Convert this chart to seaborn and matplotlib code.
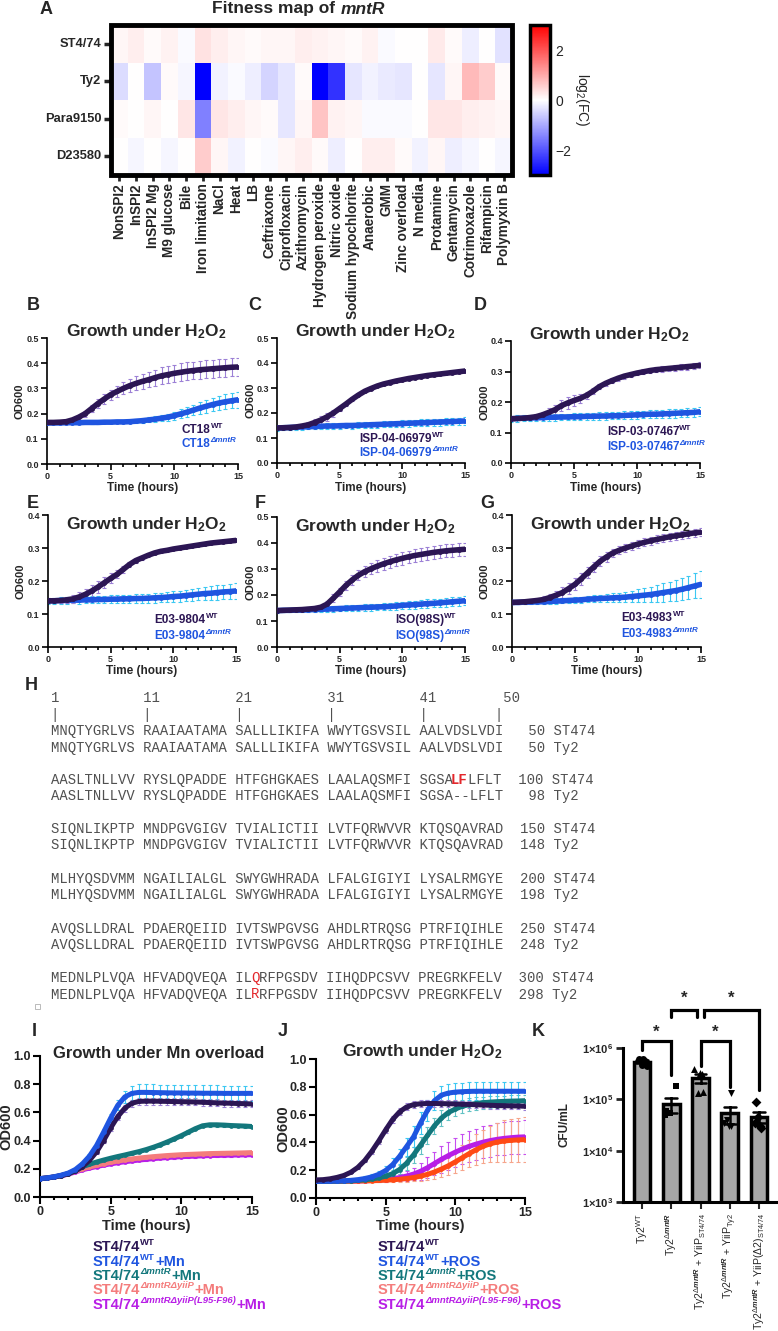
import numpy as np
import pandas as pd
import matplotlib
matplotlib.use("Agg")
import matplotlib.pyplot as plt
import seaborn as sns
from matplotlib.patches import Rectangle
from matplotlib.ticker import FixedLocator, MultipleLocator, FormatStrFormatter, NullLocator

# ---------------------------------------------------------------- data
strains = ["ST4/74", "Ty2", "Para9150", "D23580"]
conditions = ["NonSPI2", "InSPI2", "InSPI2 Mg", "M9 glucose", "Bile", "Iron limitation",
              "NaCl", "Heat", "LB", "Ceftriaxone", "Ciprofloxacin", "Azithromycin",
              "Hydrogen peroxide", "Nitric oxide", "Sodium hypochlorite", "Anaerobic",
              "GMM", "Zinc overload", "N media", "Protamine", "Gentamycin",
              "Cotrimoxazole", "Rifampicin", "Polymyxin B"]
fc_st474 = [0.10, 0.20, 0.05, 0.15, -0.05, 0.35, 0.20, 0.10, 0.05, 0.10, 0.10, 0.20,
            0.15, 0.10, 0.05, 0.15, -0.05, 0.00, 0.00, 0.25, 0.05, -0.20, 0.00, -0.35]
fc_ty2 = [-0.40, 0.00, -0.70, 0.05, -0.10, -3.00, -0.15, -0.05, -0.20, -0.50, -0.30, 0.05,
          -3.00, -2.40, -0.30, -0.15, -0.25, -0.30, 0.00, -0.30, 0.10, 0.80, 0.60, 0.05]
fc_para = [0.05, 0.00, 0.10, 0.00, 0.30, -1.50, 0.30, 0.20, 0.10, 0.05, -0.30, 0.10,
           0.70, 0.15, 0.10, -0.05, -0.05, -0.05, 0.00, 0.30, 0.30, 0.20, 0.15, 0.10]
fc_d23580 = [0.00, -0.10, 0.00, -0.10, 0.00, 0.60, 0.10, -0.15, 0.00, -0.05, 0.10, 0.20,
             0.05, -0.20, 0.00, 0.20, 0.20, 0.05, -0.15, 0.10, -0.20, -0.10, 0.00, -0.10]

time_h = [0, 0.5, 1, 1.5, 2, 2.5, 3, 3.5, 4, 4.5, 5, 5.5, 6, 6.5, 7, 7.5, 8, 8.5, 9, 9.5,
          10, 10.5, 11, 11.5, 12, 12.5, 13, 13.5, 14, 14.5, 15]

# B  CT18
b_wt = [.165,.165,.166,.168,.175,.186,.200,.220,.240,.258,.275,.288,.300,.311,.320,.328,.335,.343,.350,.355,.360,.364,.368,.371,.374,.376,.378,.380,.382,.384,.385]
b_wt_sd = [.004,.004,.005,.006,.008,.010,.012,.014,.016,.018,.020,.022,.024,.026,.028,.030,.031,.032,.033,.034,.034,.035,.035,.035,.035,.035,.035,.035,.035,.035,.035]
b_ko = [.163,.163,.163,.164,.164,.164,.165,.165,.165,.166,.166,.167,.167,.168,.170,.172,.175,.178,.182,.186,.192,.199,.206,.214,.222,.229,.236,.242,.247,.251,.255]
b_ko_sd = [.004,.004,.004,.004,.004,.004,.004,.005,.005,.005,.005,.006,.006,.007,.008,.009,.010,.011,.012,.014,.016,.018,.019,.021,.023,.025,.026,.028,.029,.030,.031]
# C  ISP-04-06979
c_wt = [.140,.141,.142,.144,.148,.153,.162,.172,.185,.200,.218,.236,.255,.272,.287,.298,.308,.316,.322,.328,.333,.338,.342,.346,.350,.353,.356,.359,.362,.365,.368]
c_wt_sd = [.004,.004,.005,.006,.008,.010,.014,.016,.016,.014,.010,.008,.006,.005,.004,.004,.004,.004,.004,.004,.004,.004,.004,.004,.004,.004,.004,.004,.004,.004,.004]
c_ko = [.140,.141,.142,.143,.144,.145,.146,.147,.148,.148,.149,.150,.150,.151,.152,.153,.154,.155,.156,.157,.158,.159,.160,.161,.162,.163,.164,.165,.166,.167,.168]
c_ko_sd = [.010,.010,.010,.010,.010,.010,.010,.011,.011,.011,.011,.011,.012,.012,.012,.012,.012,.012,.013,.013,.013,.013,.013,.014,.014,.014,.014,.014,.014,.015,.015]
# D  ISP-03-07467
d_wt = [.145,.146,.147,.149,.152,.158,.166,.175,.188,.197,.205,.212,.222,.235,.250,.261,.270,.278,.285,.290,.295,.299,.303,.306,.308,.310,.312,.314,.316,.318,.320]
d_wt_sd = [.005,.005,.006,.007,.008,.010,.013,.016,.018,.020,.018,.015,.012,.010,.008,.008,.008,.008,.008,.008,.008,.008,.008,.008,.009,.009,.009,.010,.010,.010,.010]
d_ko = [.145,.146,.147,.148,.148,.149,.150,.150,.151,.151,.152,.152,.153,.153,.154,.154,.155,.155,.156,.157,.158,.159,.160,.160,.161,.162,.163,.164,.165,.166,.168]
d_ko_sd = [.010,.010,.010,.010,.010,.010,.011,.011,.011,.011,.011,.012,.012,.012,.012,.012,.012,.012,.013,.013,.013,.013,.013,.013,.014,.014,.014,.014,.014,.014,.015]
# E  E03-9804
e_wt = [.140,.140,.141,.143,.146,.152,.160,.170,.182,.195,.208,.220,.235,.250,.262,.270,.278,.285,.290,.293,.297,.300,.303,.306,.309,.312,.315,.317,.319,.321,.323]
e_wt_sd = [.008,.008,.009,.010,.012,.014,.016,.018,.018,.017,.015,.012,.010,.008,.006,.005,.004,.004,.004,.004,.004,.004,.004,.004,.004,.004,.004,.004,.004,.004,.004]
e_ko = [.140,.140,.141,.141,.142,.142,.143,.143,.144,.144,.145,.145,.146,.146,.147,.147,.148,.149,.150,.151,.153,.154,.156,.158,.160,.162,.163,.165,.167,.168,.170]
e_ko_sd = [.010,.010,.010,.010,.010,.011,.011,.011,.011,.012,.012,.012,.013,.013,.013,.014,.014,.015,.015,.016,.016,.017,.018,.018,.019,.020,.021,.022,.022,.023,.024]
# F  ISO(98S)
f_wt = [.140,.141,.142,.143,.144,.146,.148,.153,.165,.188,.212,.237,.258,.276,.290,.301,.311,.320,.328,.335,.341,.347,.352,.356,.360,.364,.367,.370,.372,.374,.376]
f_wt_sd = [.005,.005,.005,.006,.006,.007,.008,.010,.012,.014,.016,.018,.019,.020,.021,.022,.022,.023,.023,.024,.024,.024,.025,.025,.025,.025,.025,.025,.025,.025,.025]
f_ko = [.140,.141,.141,.142,.142,.143,.144,.145,.146,.147,.148,.149,.150,.151,.152,.153,.154,.155,.156,.158,.160,.162,.163,.165,.167,.168,.170,.172,.174,.176,.178]
f_ko_sd = [.008,.008,.008,.009,.009,.009,.010,.010,.010,.011,.011,.011,.012,.012,.012,.013,.013,.013,.014,.014,.014,.015,.015,.015,.016,.016,.016,.017,.017,.018,.018]
# G  E03-4983
g_wt = [.135,.136,.137,.139,.141,.144,.150,.157,.165,.177,.190,.207,.225,.243,.260,.273,.285,.293,.300,.306,.312,.317,.322,.326,.330,.334,.337,.340,.343,.346,.348]
g_wt_sd = [.005,.005,.006,.007,.008,.010,.012,.014,.016,.017,.018,.018,.017,.016,.015,.014,.013,.012,.012,.012,.012,.012,.012,.012,.012,.012,.012,.012,.012,.012,.012]
g_ko = [.135,.135,.136,.136,.137,.137,.138,.139,.140,.141,.142,.143,.145,.146,.147,.148,.149,.150,.151,.153,.155,.157,.159,.162,.165,.168,.171,.175,.180,.185,.190]
g_ko_sd = [.006,.006,.006,.007,.007,.007,.008,.008,.008,.009,.009,.010,.010,.011,.012,.013,.014,.015,.016,.018,.020,.022,.024,.026,.028,.030,.032,.034,.036,.038,.040]

# I  Mn overload
i_wt = [.130,.135,.142,.152,.165,.185,.215,.260,.320,.400,.490,.570,.630,.665,.678,.680,.680,.679,.678,.677,.676,.675,.674,.672,.670,.668,.666,.665,.663,.662,.660]
i_wt_sd = [.005,.005,.006,.006,.007,.008,.010,.012,.015,.018,.020,.022,.024,.025,.025,.025,.025,.025,.025,.025,.025,.025,.025,.025,.025,.025,.025,.025,.025,.025,.025]
i_wtmn = [.130,.136,.144,.155,.170,.195,.235,.290,.365,.460,.560,.650,.710,.735,.742,.742,.741,.740,.739,.738,.738,.737,.737,.736,.736,.736,.735,.735,.735,.735,.735]
i_wtmn_sd = [.005,.005,.006,.007,.008,.010,.012,.015,.020,.025,.030,.035,.045,.055,.058,.058,.058,.057,.057,.056,.056,.055,.055,.055,.055,.055,.055,.055,.055,.055,.055]
i_ko = [.130,.135,.142,.152,.165,.185,.215,.232,.248,.262,.275,.287,.298,.310,.322,.336,.352,.370,.390,.412,.435,.460,.485,.505,.512,.512,.510,.507,.505,.503,.500]
i_ko_sd = [.005,.005,.005,.006,.006,.007,.007,.008,.008,.008,.009,.009,.009,.010,.010,.010,.010,.011,.011,.011,.012,.012,.012,.012,.012,.012,.012,.012,.012,.012,.012]
i_dy = [.130,.135,.142,.152,.165,.182,.200,.213,.225,.236,.246,.255,.263,.270,.276,.281,.286,.290,.294,.297,.300,.302,.304,.306,.308,.309,.310,.311,.312,.313,.315]
i_dy_sd = [.005,.005,.005,.005,.006,.006,.006,.007,.007,.007,.008,.008,.008,.008,.009,.009,.009,.009,.010,.010,.010,.010,.010,.010,.010,.010,.010,.010,.010,.010,.010]
i_lf = [.130,.135,.142,.150,.162,.178,.193,.205,.216,.226,.235,.243,.250,.256,.262,.267,.272,.276,.280,.283,.286,.288,.290,.292,.294,.295,.296,.297,.298,.299,.300]
i_lf_sd = [.005,.005,.005,.005,.006,.006,.006,.007,.007,.007,.008,.008,.008,.008,.009,.009,.009,.009,.010,.010,.010,.010,.010,.010,.010,.010,.010,.010,.010,.010,.010]

# J  H2O2
j_wt = [.130,.132,.138,.148,.162,.185,.220,.270,.335,.410,.490,.565,.620,.655,.672,.678,.680,.680,.679,.678,.677,.675,.673,.671,.669,.667,.665,.664,.663,.662,.660]
j_wt_sd = [.005,.005,.006,.006,.007,.008,.010,.012,.015,.018,.020,.022,.024,.025,.025,.025,.025,.025,.025,.025,.025,.025,.025,.025,.025,.025,.025,.025,.025,.025,.025]
j_ros = [.120,.120,.121,.122,.124,.127,.132,.140,.152,.170,.198,.240,.300,.370,.440,.540,.630,.700,.740,.755,.762,.765,.767,.768,.768,.768,.768,.768,.768,.768,.768]
j_ros_sd = [.005,.005,.005,.005,.006,.008,.010,.015,.020,.025,.035,.045,.055,.065,.075,.080,.075,.070,.065,.065,.065,.065,.065,.065,.065,.065,.065,.065,.065,.065,.065]
j_ko = [.120,.120,.120,.121,.122,.124,.127,.131,.137,.145,.157,.175,.205,.250,.310,.380,.450,.520,.575,.615,.640,.660,.672,.680,.686,.690,.693,.695,.697,.698,.700]
j_ko_sd = [.005,.005,.005,.005,.006,.007,.008,.010,.012,.015,.020,.025,.035,.045,.055,.060,.060,.058,.055,.052,.050,.048,.046,.045,.044,.043,.042,.042,.041,.041,.040]
j_dy = [.120,.120,.120,.120,.121,.121,.122,.123,.124,.126,.128,.131,.135,.140,.147,.157,.170,.187,.208,.232,.260,.290,.320,.348,.372,.390,.402,.410,.415,.418,.420]
j_dy_sd = [.005,.005,.005,.005,.005,.006,.006,.007,.008,.010,.012,.015,.018,.022,.028,.035,.042,.050,.060,.070,.080,.090,.100,.110,.120,.130,.140,.150,.155,.158,.160]
j_lf = [.120,.120,.120,.120,.121,.122,.123,.124,.126,.129,.133,.139,.147,.158,.172,.192,.218,.248,.278,.305,.330,.352,.372,.388,.402,.413,.422,.429,.434,.438,.440]
j_lf_sd = [.005,.005,.005,.005,.005,.006,.007,.008,.010,.012,.015,.020,.025,.035,.045,.060,.075,.085,.095,.100,.105,.108,.110,.112,.114,.115,.116,.117,.118,.119,.120]

# legend entries of I and J: (base, superscript, suffix)
i_legend = [("ST4/74", "WT", ""), ("ST4/74", "WT", "+Mn"), ("ST4/74", "ΔmntR", "+Mn"),
            ("ST4/74", "ΔmntRΔyiiP", "+Mn"), ("ST4/74", "ΔmntRΔyiiP(L95-F96)", "+Mn")]
j_legend = [("ST4/74", "WT", ""), ("ST4/74", "WT", "+ROS"), ("ST4/74", "ΔmntR", "+ROS"),
            ("ST4/74", "ΔmntRΔyiiP", "+ROS"), ("ST4/74", "ΔmntRΔyiiP(L95-F96)", "+ROS")]

# H  sequence alignment
seq_st474 = ["MNQTYGRLVS RAAIAATAMA SALLLIKIFA WWYTGSVSIL AALVDSLVDI",
             "AASLTNLLVV RYSLQPADDE HTFGHGKAES LAALAQSMFI SGSALFLFLT",
             "SIQNLIKPTP MNDPGVGIGV TVIALICTII LVTFQRWVVR KTQSQAVRAD",
             "MLHYQSDVMM NGAILIALGL SWYGWHRADA LFALGIGIYI LYSALRMGYE",
             "AVQSLLDRAL PDAERQEIID IVTSWPGVSG AHDLRTRQSG PTRFIQIHLE",
             "MEDNLPLVQA HFVADQVEQA ILQRFPGSDV IIHQDPCSVV PREGRKFELV"]
end_st474 = [50, 100, 150, 200, 250, 300]
seq_ty2 = ["MNQTYGRLVS RAAIAATAMA SALLLIKIFA WWYTGSVSIL AALVDSLVDI",
           "AASLTNLLVV RYSLQPADDE HTFGHGKAES LAALAQSMFI SGSA--LFLT",
           "SIQNLIKPTP MNDPGVGIGV TVIALICTII LVTFQRWVVR KTQSQAVRAD",
           "MLHYQSDVMM NGAILIALGL SWYGWHRADA LFALGIGIYI LYSALRMGYE",
           "AVQSLLDRAL PDAERQEIID IVTSWPGVSG AHDLRTRQSG PTRFIQIHLE",
           "MEDNLPLVQA HFVADQVEQA ILRRFPGSDV IIHQDPCSVV PREGRKFELV"]
end_ty2 = [50, 98, 148, 198, 248, 298]
ruler = "1          11         21         31         41        50"
ruler_bars = "|          |          |          |          |        |"
# highlighted residues: (row, strain, first char index, last char index, bold)
seq_marks = [(1, "ST474", 48, 49, True), (5, "ST474", 24, 24, False), (5, "Ty2", 24, 24, False)]

# K  CFU counts
k_groups = ["Ty2$^{\\mathrm{WT}}$",
            "Ty2$^{\\Delta\\mathit{mntR}}$",
            "Ty2$^{\\Delta\\mathit{mntR}}$ + YiiP$_{\\mathrm{ST4/74}}$",
            "Ty2$^{\\Delta\\mathit{mntR}}$ + YiiP$_{\\mathrm{Ty2}}$",
            "Ty2$^{\\Delta\\mathit{mntR}}$ + YiiP(Δ2)$_{\\mathrm{ST4/74}}$"]
k_wt = [6.0e5, 5.5e5, 6.2e5, 4.6e5, 4.5e5]
k_mntr = [1.8e5, 6.0e4, 5.5e4, 5.0e4, 5.5e4]
k_yiip_st = [3.9e5, 3.3e5, 3.1e5, 1.3e5, 1.4e5]
k_yiip_ty2 = [1.3e5, 3.5e4, 3.0e4, 4.0e4, 3.0e4]
k_yiip_d2 = [9.0e4, 2.8e4, 4.5e4, 3.5e4, 3.0e4]
k_markers = ["o", "s", "^", "v", "D"]

# ---------------------------------------------------------------- style
sns.set_theme(style="ticks")
SANS = ["Liberation Sans", "DejaVu Sans"]
MONO = ["Liberation Mono", "DejaVu Sans Mono"]
plt.rcParams["font.family"] = SANS
plt.rcParams["mathtext.fontset"] = "custom"
plt.rcParams["mathtext.rm"] = "Liberation Sans"
plt.rcParams["mathtext.bf"] = "Liberation Sans:bold"
plt.rcParams["mathtext.it"] = "Liberation Sans:italic:bold"
plt.rcParams["mathtext.sf"] = "Liberation Sans"
plt.rcParams["axes.edgecolor"] = "black"

DARK = "#2c1654"; DARK_E = "#9c80d6"
BLUE = "#1f55e0"; BLUE_E = "#3cc8f2"
TEAL = "#13777c"; TEAL_E = "#62c2c4"
SALMON = "#f47c7c"; ORANGE = "#ff4a14"; SALMON_E = "#f6a58c"
MAG = "#b81ee6"; MAG_E = "#c64ef0"
LEG_COLORS = [DARK, BLUE, TEAL, SALMON, MAG]

W, H = 778, 1331
fig = plt.figure(figsize=(W / 100, H / 100), dpi=100)
renderer = fig.canvas.get_renderer()


def axpx(x0, y0, x1, y1):
    ax = fig.add_axes([x0 / W, 1 - y1 / H, (x1 - x0) / W, (y1 - y0) / H])
    ax._px = (x0, y0, x1, y1)
    return ax


def ftext(x, y, s, **kw):
    return fig.text(x / W, 1 - y / H, s, **kw)


def panel_letter(x, y, s):
    ftext(x, y, s, fontsize=13, fontweight="bold", va="center", ha="left")


def sup_text(x, y, base, sup, suffix, color, fs=10.5, sfs=6.8, rise=4.5):
    """base text + small raised superscript + suffix, laid out left to right (pixels)."""
    cx = x
    for s, size, dy, st in [(base, fs, 0, "normal"), (sup, sfs, rise, "normal" if sup == "WT" else "italic"),
                            (suffix, fs, 0, "normal")]:
        if not s:
            continue
        t = ftext(cx, y - dy, s, fontsize=size, fontweight="bold", style=st, color=color,
                  ha="left", va="center")
        cx += t.get_window_extent(renderer).width + (0.5 if size == sfs else 0)


# ---------------------------------------------------------------- A heatmap
fc = pd.DataFrame([fc_st474, fc_ty2, fc_para, fc_d23580], index=strains, columns=conditions)
axA = axpx(111, 25, 512, 175)
caxA = axpx(530, 25, 550, 175)
sns.heatmap(fc, ax=axA, cbar_ax=caxA, cmap="bwr", vmin=-3, vmax=3,
            xticklabels=True, yticklabels=True, cbar_kws={"ticks": [-2, 0, 2]})
axA.add_patch(Rectangle((0, 0), 1, 1, transform=axA.transAxes, fill=False, lw=3.5,
                        ec="black", clip_on=False, zorder=5))
axA.tick_params(axis="y", length=5, width=2.5, labelsize=9.3, rotation=0, pad=2, left=True)
axA.tick_params(axis="x", length=4, width=2, labelsize=9.8, rotation=90, pad=2, bottom=True)
for l in axA.get_xticklabels() + axA.get_yticklabels():
    l.set_fontweight("bold")
axA.set_xlabel(""); axA.set_ylabel("")
cb = axA.collections[0].colorbar
cb.outline.set_linewidth(2.5)
cb.outline.set_edgecolor("black")
caxA.tick_params(direction="in", length=3, width=2, left=True, right=True, labelsize=10, pad=4)
cb.set_label("log$_2$(FC)", rotation=270, fontsize=10, labelpad=14)
ftext(340, 9, "Fitness map of ", fontsize=12.5, fontweight="bold", ha="right", va="center")
ftext(341, 9, "mntR", fontsize=12.5, fontweight="bold", style="italic", ha="left", va="center")
panel_letter(40, 9, "A")


# ---------------------------------------------------------------- growth helper
def style_growth(ax, ymax, ystep, xl_y, yl_x, fs_tick=6.5, fs_lab=8.5, fs_ylab=8, lw=1.2):
    ax.set_xlim(0, 15)
    ax.set_ylim(0, ymax)
    ax.xaxis.set_major_locator(FixedLocator([0, 5, 10, 15]))
    ax.xaxis.set_minor_locator(FixedLocator(list(range(16))))
    ax.yaxis.set_major_locator(MultipleLocator(ystep))
    ax.yaxis.set_minor_locator(NullLocator())
    ax.yaxis.set_major_formatter(FormatStrFormatter("%.1f"))
    sns.despine(ax=ax)
    for s in ["left", "bottom"]:
        ax.spines[s].set_linewidth(lw)
    ax.tick_params(which="major", length=4, width=lw, labelsize=fs_tick, direction="out", pad=2,
                   color="black")
    ax.tick_params(which="minor", length=2.5, width=lw, color="black")
    for l in ax.get_xticklabels() + ax.get_yticklabels():
        l.set_fontweight("bold")
    x0, y0, x1, y1 = ax._px
    ax.set_xlabel("Time (hours)", fontweight="bold", fontsize=fs_lab)
    ax.set_ylabel("OD600", fontweight="bold", fontsize=fs_ylab)
    ax.xaxis.set_label_coords(0.5, -(xl_y - y1) / (y1 - y0))
    ax.xaxis.label.set_va("center")
    ax.yaxis.set_label_coords((yl_x - x0) / (x1 - x0), 0.5)
    ax.yaxis.label.set_va("center")
    ax.grid(False)


def draw_series(ax, mean, sd, lc, ec, lw=4.0, ms=3.5, elw=0.8):
    ax.errorbar(time_h, mean, yerr=sd, fmt="none", ecolor=ec, elinewidth=elw,
                capsize=1.6, capthick=elw, zorder=2)
    sns.lineplot(x=time_h, y=mean, ax=ax, color=lc, lw=lw, marker="o", markersize=ms,
                 markeredgewidth=0, zorder=3)


H2O2 = "Growth under H$_\\mathbf{2}$O$_\\mathbf{2}$"

# legend anchors (x in hours, pixel row of the two lines)
small_panels = [
    ("B", (47, 338, 238, 464), 0.5, (27, 306), b_wt, b_wt_sd, b_ko, b_ko_sd, "CT18", (10.6, 430, 444), 488),
    ("C", (277, 338, 465, 463), 0.5, (248, 306), c_wt, c_wt_sd, c_ko, c_ko_sd, "ISP-04-06979", (6.6, 439, 453), 488),
    ("D", (511, 341, 700, 463), 0.4, (474, 306), d_wt, d_wt_sd, d_ko, d_ko_sd, "ISP-03-07467", (7.6, 432, 447), 488),
    ("E", (48, 515, 236, 647), 0.4, (27, 503), e_wt, e_wt_sd, e_ko, e_ko_sd, "E03-9804", (8.5, 620, 636), 671),
    ("F", (277, 517, 465, 647), 0.5, (255, 503), f_wt, f_wt_sd, f_ko, f_ko_sd, "ISO(98S)", (9.4, 620, 636), 671),
    ("G", (512, 515, 701, 647), 0.4, (480, 503), g_wt, g_wt_sd, g_ko, g_ko_sd, "E03-4983", (8.7, 618, 634), 671),
]
for letter, box, ymax, lpos, wt, wt_sd, ko, ko_sd, name, legpos, xl_y in small_panels:
    ax = axpx(*box)
    draw_series(ax, ko, ko_sd, BLUE, BLUE_E)
    draw_series(ax, wt, wt_sd, DARK, DARK_E)
    style_growth(ax, ymax, 0.1, xl_y, box[0] - 27)
    x0, y0, x1, y1 = box
    lt, ly1, ly2 = legpos
    lx = x0 + lt / 15 * (x1 - x0)
    sup_text(lx, ly1, name, "WT", "", DARK, fs=8.5, sfs=5.8, rise=3.5)
    sup_text(lx, ly2, name, "ΔmntR", "", BLUE, fs=8.5, sfs=5.8, rise=3.5)
    ftext((x0 + x1) / 2 + 4, y0 - 6 if letter in "BCD" else y0 + 10, H2O2, fontsize=12.5,
          fontweight="bold", ha="center", va="center")
    panel_letter(lpos[0], lpos[1], letter)

# ---------------------------------------------------------------- H sequences
x_seq = 51
cw = 10 * 0.6 * 100 / 72
SEQ_GRAY = "#505050"
ftext(x_seq, 698, ruler, family=MONO, fontsize=10, color=SEQ_GRAY, va="center", ha="left")
ftext(x_seq, 715, ruler_bars, family=MONO, fontsize=10, color=SEQ_GRAY, va="center", ha="left")
pair_y = [731, 780, 829, 879, 929, 978]
for r in range(6):
    for seq, end, name, yy in [(seq_st474[r], end_st474[r], "ST474", pair_y[r]),
                                (seq_ty2[r], end_ty2[r], "Ty2", pair_y[r] + 16.5)]:
        line = seq + f"{end:>5} " + name
        marks = [(a, b, bold) for (rr, nm, a, b, bold) in seq_marks if rr == r and nm == name]
        segs = []
        pos = 0
        for a, b, bold in marks:
            segs.append((pos, line[pos:a], SEQ_GRAY, "normal"))
            segs.append((a, line[a:b + 1], "#e3262b", "bold" if bold else "normal"))
            pos = b + 1
        segs.append((pos, line[pos:], SEQ_GRAY, "normal"))
        for start, txt, col, wgt in segs:
            if txt:
                ftext(x_seq + start * cw, yy, txt, family=MONO, fontsize=10, color=col,
                      fontweight=wgt, va="center", ha="left")
panel_letter(25, 686, "H")
fig.patches.append(Rectangle((35 / W, 1 - 1009 / H), 5 / W, 5 / H, transform=fig.transFigure,
                             fill=False, ec="#b0b0b0", lw=0.6))

# ---------------------------------------------------------------- I
axI = axpx(40, 1056, 252, 1197)
for m, s, lc, ec in [(i_lf, i_lf_sd, MAG, MAG_E), (i_dy, i_dy_sd, SALMON, SALMON_E),
                     (i_ko, i_ko_sd, TEAL, TEAL_E), (i_wt, i_wt_sd, DARK, DARK_E),
                     (i_wtmn, i_wtmn_sd, BLUE, BLUE_E)]:
    draw_series(axI, m, s, lc, ec, lw=3.6, ms=3.4)
style_growth(axI, 1.0, 0.2, 1226, 6, fs_tick=9, fs_lab=10.5, fs_ylab=10.5, lw=1.5)
axI.tick_params(which="major", length=5, pad=1.5)
ftext(159, 1053, "Growth under Mn overload", fontsize=12, fontweight="bold", ha="center", va="center")
panel_letter(32, 1032, "I")
for k, ((b, sp, sf), c) in enumerate(zip(i_legend, LEG_COLORS)):
    sup_text(93, 1247 + k * 14.5, b, sp, sf, c)

# ---------------------------------------------------------------- J
axJ = axpx(316, 1059, 525, 1198)
for m, s, lc, ec in [(j_lf, j_lf_sd, MAG, MAG_E), (j_dy, j_dy_sd, ORANGE, SALMON_E),
                     (j_ko, j_ko_sd, TEAL, TEAL_E), (j_ros, j_ros_sd, BLUE, BLUE_E),
                     (j_wt, j_wt_sd, DARK, DARK_E)]:
    draw_series(axJ, m, s, lc, ec, lw=3.6, ms=3.4)
style_growth(axJ, 1.0, 0.2, 1226, 283, fs_tick=9, fs_lab=10.5, fs_ylab=10.5, lw=1.5)
axJ.tick_params(which="major", length=5, pad=1.5)
ftext(422, 1052, H2O2, fontsize=12.5, fontweight="bold", ha="center", va="center")
panel_letter(278, 1032, "J")
for k, ((b, sp, sf), c) in enumerate(zip(j_legend, LEG_COLORS)):
    sup_text(378, 1247 + k * 14.5, b, sp, sf, c)

# ---------------------------------------------------------------- K
k_vals = [k_wt, k_mntr, k_yiip_st, k_yiip_ty2, k_yiip_d2]
dfk = pd.DataFrame({"group": np.repeat(k_groups, 5), "cfu": np.concatenate(k_vals)})
axK = axpx(623, 1048, 778, 1202)
sns.barplot(data=dfk, x="group", y="cfu", order=k_groups, ax=axK, errorbar="se",
            color="#a6a6a6", saturation=1, edgecolor="black", linewidth=2.5, width=0.58,
            capsize=0.4, err_kws={"color": "black", "linewidth": 1.8})
np.random.seed(3)
for g, mk in zip(k_groups, k_markers):
    sns.stripplot(data=dfk[dfk.group == g], x="group", y="cfu", order=k_groups, ax=axK,
                  marker=mk, color="black", size=5, jitter=0.22, zorder=4)
axK.set_yscale("log")
axK.set_ylim(1e3, 1e6)
axK.set_xlim(-0.65, 4.65)
axK.yaxis.set_major_locator(FixedLocator([1e3, 1e4, 1e5, 1e6]))
axK.yaxis.set_minor_locator(NullLocator())
axK.set_yticklabels(["1×10$^\\mathbf{3}$", "1×10$^\\mathbf{4}$", "1×10$^\\mathbf{5}$", "1×10$^\\mathbf{6}$"])
sns.despine(ax=axK)
for s in ["left", "bottom"]:
    axK.spines[s].set_linewidth(2.2)
axK.tick_params(axis="y", length=5, width=2, labelsize=8, pad=2)
axK.tick_params(axis="x", length=5, width=1.5, labelsize=7.6, rotation=90, pad=3)
for l in axK.get_yticklabels():
    l.set_fontweight("bold")
axK.set_xlabel("")
axK.set_ylabel("CFU/mL", fontsize=8.5, fontweight="bold")
axK.yaxis.set_label_coords((570 - 623) / 155, 0.5)
axK.grid(False)


def ky(py):
    return 10 ** (6 - (py - 1048) / 51.33)


brackets = [((0.0, 1050), (1.0, 1075), 1041, 1032),
            ((1.0, 1017), (1.87, 1017), 1010, 998),
            ((2.0, 1066), (3.0, 1087), 1041, 1032),
            ((2.13, 1017), (4.0, 1090), 1010, 998)]
for (xa, ya), (xb, yb), ytop, ystar in brackets:
    axK.plot([xa, xa, xb, xb], [ky(ya), ky(ytop), ky(ytop), ky(yb)], color="black", lw=2.3,
             clip_on=False, solid_joinstyle="miter", zorder=6)
    axK.text((xa + xb) / 2, ky(ystar), "*", ha="center", va="center", fontsize=12,
             fontweight="bold", clip_on=False)
panel_letter(532, 1032, "K")

fig.savefig("out.png", dpi=100)
